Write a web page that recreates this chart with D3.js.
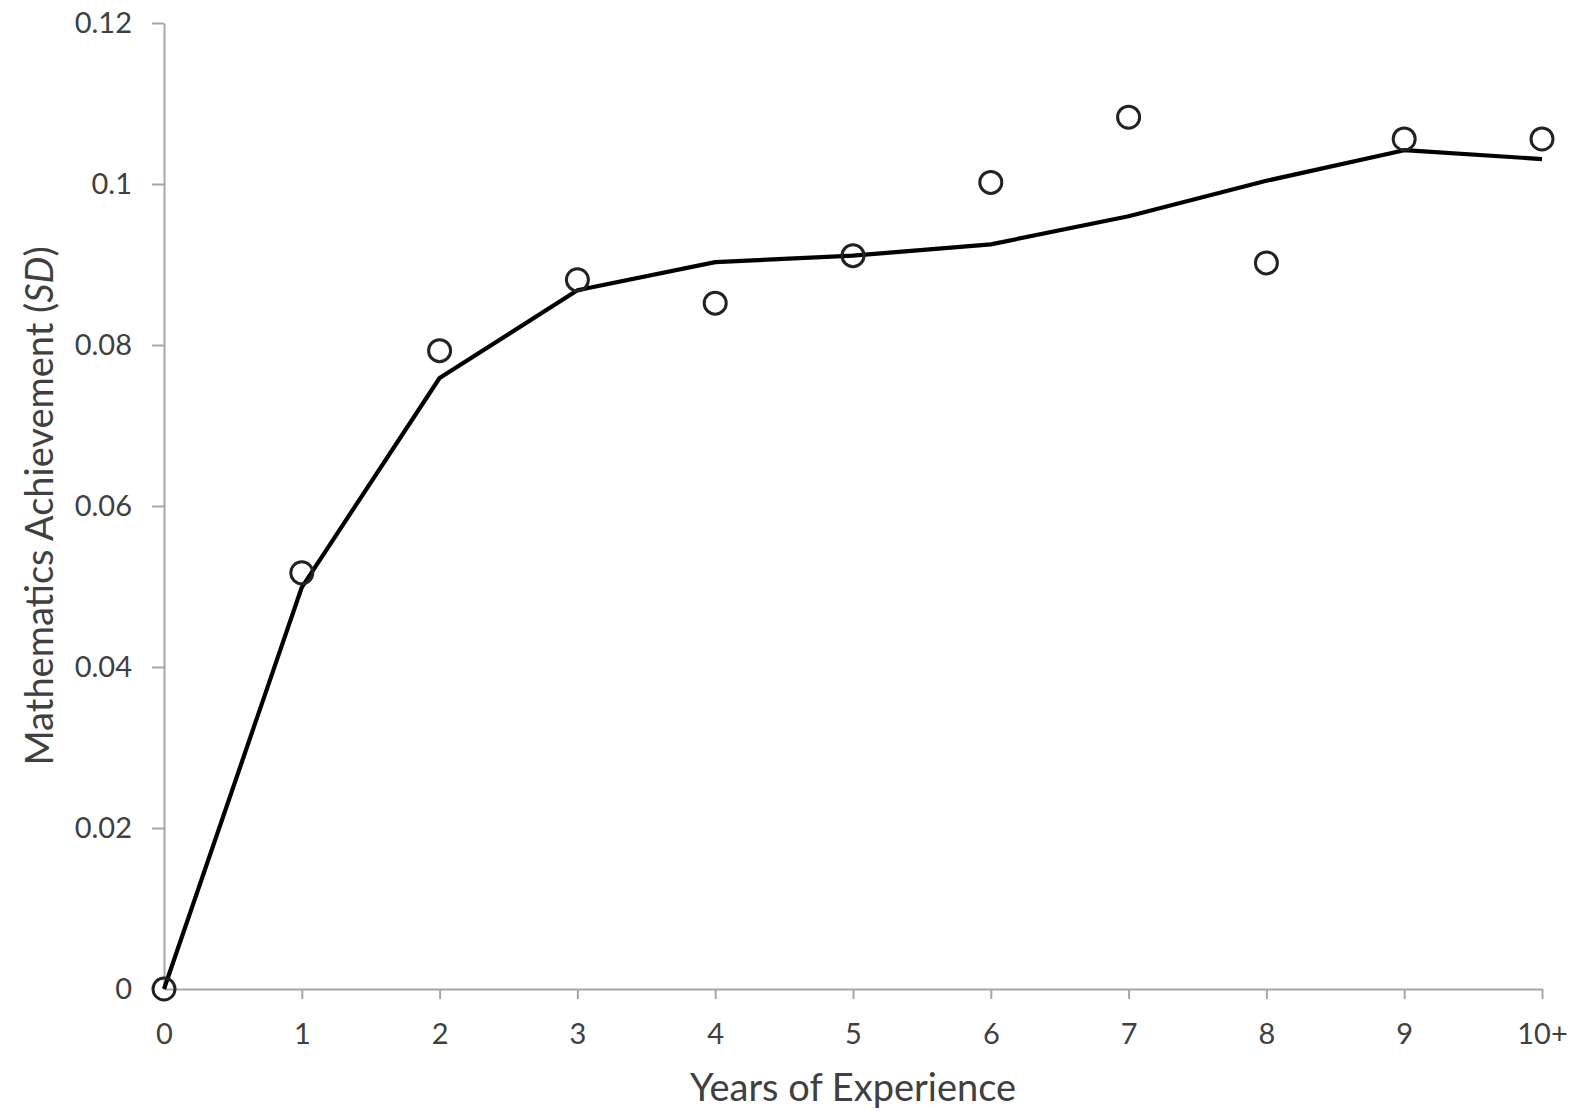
<!DOCTYPE html>
<meta charset="utf-8">
<script src="https://d3js.org/d3.v7.min.js"></script>
<style>
  body { margin: 0; background: #fff; }
  .axis path, .axis line { stroke: #a6a6a6; stroke-width: 2; }
  .axis text { font-family: Lato, "Open Sans", sans-serif; font-size: 29px; fill: #404040; }
  .title { font-family: Lato, "Open Sans", sans-serif; font-size: 38px; fill: #404040; }
</style>
<div id="chart"></div>
<script>

// Years of experience categories
var years = ["0", "1", "2", "3", "4", "5", "6", "7", "8", "9", "10+"];
// observed estimates (circles)
var observed = [0, 0.0517, 0.0793, 0.0881, 0.0852, 0.0911, 0.1002, 0.1083, 0.0902, 0.1056, 0.1056];
// fitted line
var fitted = [0, 0.0499, 0.0759, 0.0868, 0.0903, 0.0911, 0.0925, 0.0960, 0.1004, 0.1042, 0.1031];
var yTicks = [0, 0.02, 0.04, 0.06, 0.08, 0.1, 0.12];

var W = 1576, H = 1112;
var margin = {top: 23, right: 34, bottom: 123, left: 164},
    width = W - margin.left - margin.right,
    height = H - margin.top - margin.bottom;

var svg = d3.select("#chart")
  .append("svg")
    .attr("width", W)
    .attr("height", H)
  .append("g")
    .attr("transform", "translate(" + margin.left + "," + margin.top + ")");

var x = d3.scalePoint()
  .domain(years)
  .range([0, width]);

var y = d3.scaleLinear()
  .domain([0, 0.12])
  .range([height, 0]);

// y axis
var yAxis = svg.append("g")
  .attr("class", "axis")
  .call(d3.axisLeft(y).tickValues(yTicks).tickSize(12).tickSizeOuter(0).tickPadding(20)
    .tickFormat(function(d) { return d === 0 ? "0" : String(+d.toFixed(2)); }));

// x axis
var xAxis = svg.append("g")
  .attr("class", "axis")
  .attr("transform", "translate(0," + height + ")")
  .call(d3.axisBottom(x).tickSize(10).tickSizeOuter(0).tickPadding(24));

// the zero ticks would sit on the other axis; hide their lines
xAxis.selectAll(".tick line").filter(function(d) { return d === "0"; }).remove();
yAxis.selectAll(".tick line").filter(function(d) { return d === 0; }).remove();

// fitted line
svg.append("path")
  .datum(fitted)
  .attr("fill", "none")
  .attr("stroke", "#000")
  .attr("stroke-width", 4.2)
  .attr("stroke-linejoin", "round")
  .attr("d", d3.line()
    .x(function(d, i) { return x(years[i]); })
    .y(function(d) { return y(d); }));

// observed circles
svg.selectAll("circle.obs")
  .data(observed)
  .enter()
  .append("circle")
    .attr("class", "obs")
    .attr("cx", function(d, i) { return x(years[i]); })
    .attr("cy", function(d) { return y(d); })
    .attr("r", 11)
    .attr("fill", "none")
    .attr("stroke", "#222")
    .attr("stroke-width", 3);

// axis titles
svg.append("text")
  .attr("class", "title")
  .attr("x", width / 2)
  .attr("y", height + 112)
  .attr("text-anchor", "middle")
  .text("Years of Experience");

var yt = svg.append("text")
  .attr("class", "title")
  .attr("transform", "translate(" + (-111) + "," + (height / 2) + ") rotate(-90)")
  .attr("text-anchor", "middle");
yt.append("tspan").text("Mathematics Achievement (");
yt.append("tspan").style("font-style", "italic").text("SD");
yt.append("tspan").text(")");

</script>
